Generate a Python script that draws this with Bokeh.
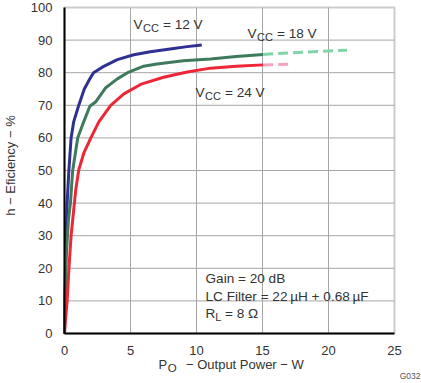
import math
from bokeh.plotting import figure
from bokeh.models import Label, BoxAnnotation, FixedTicker, Range1d
from bokeh.embed import file_html
from bokeh.resources import INLINE

# ---- data ----
p12_x = [0, 0.05, 0.12, 0.2, 0.33, 0.5, 0.7, 1.08, 1.5, 1.9, 2.2, 2.86, 4.0, 5.25, 6.5, 8.0, 9.3, 10.4]
p12_y = [0, 15, 30, 40, 50, 60, 65, 70, 75, 78, 80, 81.7, 84.0, 85.5, 86.4, 87.3, 88.0, 88.5]

p18_x = [0, 0.05, 0.15, 0.3, 0.45, 0.62, 1.0, 1.46, 1.92, 2.35, 3.1, 4.0, 4.87, 6.0, 7.0, 9.0, 11.06, 13.0, 15.05]
p18_y = [0, 12, 25, 35, 40, 50, 60, 65, 69.7, 71, 75.3, 78.1, 80.2, 82.0, 82.7, 83.7, 84.2, 85.0, 85.6]
p18_ext_x = [15.05, 18.0, 21.4]
p18_ext_y = [85.6, 86.3, 86.9]

p24_x = [0, 0.05, 0.2, 0.33, 0.5, 0.7, 0.85, 1.08, 1.46, 1.97, 2.6, 3.5, 4.5, 5.76, 7.5, 9.3, 11.06, 13.0, 15.05]
p24_y = [0, 3, 10, 19.7, 30, 38, 44, 50.2, 55.3, 59.8, 64.9, 70, 73.5, 76.4, 78.6, 80.2, 81.4, 82.0, 82.4]
p24_ext_x = [15.05, 17.07]
p24_ext_y = [82.4, 82.6]

x_ticks = [0, 5, 10, 15, 20, 25]
y_ticks = [0, 10, 20, 30, 40, 50, 60, 70, 80, 90, 100]

FONT = "Liberation Sans"
TXT = "#333333"

# layout: data frame occupies canvas px 64..394 (x) and 7..333 (y)
W, H = 421, 383
X0, X1, Y0, Y1 = 64, 394, 333, 7
sx = (X1 - X0) / 25.0
sy = (Y0 - Y1) / 100.0
x_range = Range1d(-X0 / sx, (W - X0) / sx)
y_range = Range1d(-(H - Y0) / sy, Y0 / sy)


def dx(px):
    return (px - X0) / sx


def dy(py):
    return (Y0 - py) / sy


p = figure(width=W, height=H, output_backend="svg", toolbar_location=None,
           x_range=x_range, y_range=y_range, min_border=0)

p.background_fill_color = "white"
p.border_fill_color = "white"
p.outline_line_color = None
p.xgrid.visible = False
p.ygrid.visible = False

# frame border (top/right dark grey)
p.add_layout(BoxAnnotation(left=0, right=25, bottom=0, top=100, fill_alpha=0,
                           line_color="#555555", line_width=2, level="underlay"))

# grid lines from the tick arrays
gx = x_ticks[1:-1]
gy = y_ticks[1:-1]
p.segment(x0=gx, y0=[y_ticks[0]] * len(gx), x1=gx, y1=[y_ticks[-1]] * len(gx),
          line_color="#a6a6a6", line_width=1)
p.segment(x0=[x_ticks[0]] * len(gy), y0=gy, x1=[x_ticks[-1]] * len(gy), y1=gy,
          line_color="#a6a6a6", line_width=1)

for ax, b in ((p.xaxis[0], (0, 25)), (p.yaxis[0], (0, 100))):
    ax.fixed_location = 0
    ax.bounds = b
    ax.axis_line_color = "black"
    ax.axis_line_width = 2
    ax.major_tick_line_color = None
    ax.minor_tick_line_color = None
    ax.major_label_text_font = FONT
    ax.major_label_text_font_size = "13px"
    ax.major_label_text_color = TXT
    ax.major_label_standoff = 6

p.xaxis.ticker = FixedTicker(ticks=x_ticks)
p.yaxis.ticker = FixedTicker(ticks=y_ticks)

# white backgrounds for text boxes
for (l, r, t, b) in [(128, 212, 14, 35), (240, 328, 24, 44), (186, 277, 80, 103), (199, 387, 268, 325)]:
    p.add_layout(BoxAnnotation(left=dx(l), right=dx(r), bottom=dy(b), top=dy(t), fill_color="white",
                               fill_alpha=1, line_color=None, level="underlay"))

# curves
p.line(p12_x, p12_y, line_color="#2e3192", line_width=3)
p.line(p18_x, p18_y, line_color="#3e7a5c", line_width=3)
p.line(p18_ext_x, p18_ext_y, line_color="#80d4a6", line_width=3, line_dash="10 5")
p.line(p24_x, p24_y, line_color="#ee2737", line_width=3)
p.line(p24_ext_x, p24_ext_y, line_color="#f4a2c2", line_width=3, line_dash="10 5")


def lab(x, y, text, size=13.6, xo=0, yo=0, angle=0, align="left", color=TXT):
    p.add_layout(Label(x=x, y=y, text=text, x_offset=xo, y_offset=yo, angle=angle,
                       text_font=FONT, text_font_size=f"{size}px", text_color=color,
                       text_align=align, text_baseline="middle"))


def vcc(px, py, rest):
    lab(dx(px), dy(py), "V")
    lab(dx(px), dy(py), "CC", size=11, xo=9.6, yo=-3.5)
    lab(dx(px), dy(py), rest, xo=29.5)


vcc(133, 24, "= 12 V")
vcc(247, 33, "= 18 V")
vcc(195, 92, "= 24 V")

lab(dx(205), dy(278), "Gain = 20 dB")
lab(dx(205), dy(296), "LC Filter = 22\u2009\u00b5H + 0.68\u2009\u00b5F")
lab(dx(205), dy(313), "R")
lab(dx(205), dy(313), "L", size=11, xo=9.8, yo=-3.5)
lab(dx(205), dy(313), "= 8 \u03a9", xo=19.5)

# axis titles
lab(dx(158), dy(364), "P", size=13)
lab(dx(158), dy(364), "O", size=11.5, xo=9.2, yo=-3.5)
lab(dx(158), dy(364), "\u2212 Output Power \u2212 W", size=13, xo=27.5)
lab(dx(10), dy(165), "h \u2212 Eficiency \u2212 %", size=13, angle=math.pi / 2, align="center")
lab(dx(420), dy(375), "G032", size=8.5, align="right", color="#555555")

open("out.html", "w").write(file_html(p, INLINE))
